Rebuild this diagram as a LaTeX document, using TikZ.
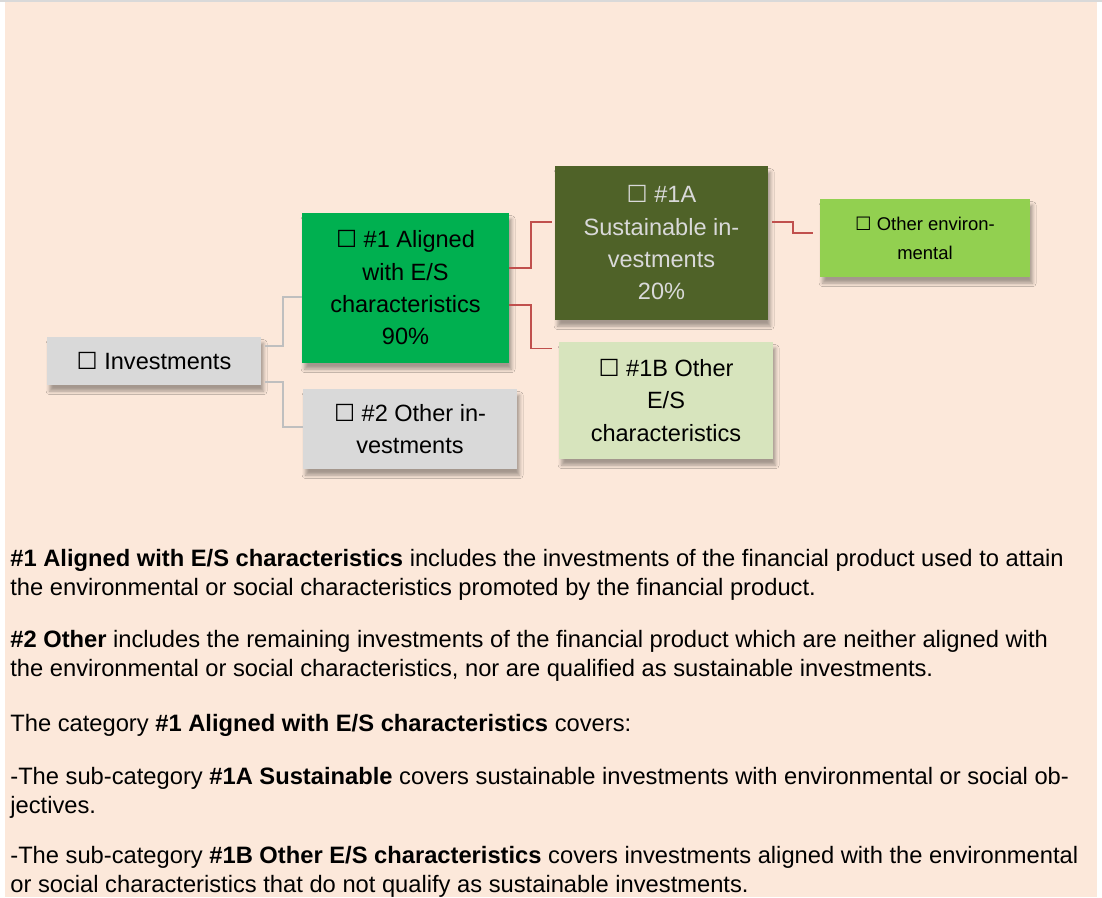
\documentclass[tikz,border=0pt]{standalone}
\usepackage{graphicx}
\usepackage{fontspec}
\setmainfont{Liberation Sans}
\newfontfamily\symfont{DejaVu Sans}
\usetikzlibrary{shadows, shadows.blur, positioning, calc}
\definecolor{Peach}{RGB}{252,232,218}
\definecolor{BoxGrey}{RGB}{217,217,217}
\definecolor{LinkGrey}{RGB}{191,191,191}
\definecolor{LinkRed}{RGB}{192,80,77}
\definecolor{AlignGreen}{RGB}{0,176,80}
\definecolor{OliveDark}{RGB}{79,98,40}
\definecolor{PaleGreen}{RGB}{215,228,189}
\definecolor{LimeGreen}{RGB}{146,208,80}
\newcommand{\ballot}{{\symfont\scalebox{1.0}{☐}}}
\newcommand{\boxfont}{\fontsize{13.4}{18.4}\selectfont}
\newcommand{\smallboxfont}{\fontsize{10.5}{16.4}\selectfont}

\begin{document}
\begin{tikzpicture}[x=0.02cm, y=-0.02cm,
  catbox/.style={rectangle, inner sep=0pt, align=center, font=\boxfont,
    blur shadow={shadow xshift=1.5pt, shadow yshift=-3.5pt, shadow blur radius=2pt, shadow opacity=35}},
  greylink/.style={draw=LinkGrey, line width=1.1pt},
  redlink/.style={draw=LinkRed, line width=1.1pt},
  para/.style={anchor=base west, inner sep=0pt, align=left, font=\fontsize{13.5}{16.2}\selectfont}]
\useasboundingbox (0,0) rectangle (1102,897);
\fill[Peach] (5,2) rectangle (1097,897);
\fill[BoxGrey] (0,0) rectangle (1102,2);

% boxes
\node[catbox, fill=BoxGrey, minimum width=4.28cm, minimum height=0.96cm] at (154,361) (inv) {\ballot{} Investments};
\node[catbox, fill=AlignGreen, minimum width=4.14cm, minimum height=3.00cm] at (405.5,288) (al) {\ballot{} \#1 Aligned\\with E/S\\characteristics\\90\%};
\node[catbox, fill=BoxGrey, minimum width=4.28cm, minimum height=1.60cm] at (410,429) (oth) {\ballot{} \#2 Other in-\\vestments};
\node[catbox, fill=OliveDark, text=BoxGrey, minimum width=4.26cm, minimum height=3.08cm] at (661.5,243) (sus) {\ballot{} \#1A\\Sustainable in-\\vestments\\20\%};
\node[catbox, fill=PaleGreen, minimum width=4.28cm, minimum height=2.34cm] at (666,400.5) (es) {\ballot{} \#1B Other\\E/S\\characteristics};
\node[catbox, fill=LimeGreen, font=\smallboxfont, minimum width=4.20cm, minimum height=1.56cm] at (925,238) (env) {\ballot{} Other environ-\\mental};

% connectors
\draw[greylink] ($(inv.east)+(4,-15)$) -- ++(18,0) |- ($(al.west)+(0,9)$);
\draw[greylink] ($(inv.east)+(4,21)$) -- ++(18,0) |- ($(oth.west)+(0,-2)$);
\draw[redlink] ($(al.east)+(0,-20)$) -- ++(22,0) |- ($(sus.west)+(-3,-21)$);
\draw[redlink] ($(al.east)+(0,17)$) -- ++(22,0) |- ($(es.west)+(-7,-52)$);
\draw[redlink] ($(sus.east)+(4,-21)$) -- ++(21,0) |- ($(env.west)+(-7,-5)$);

% explanations
\node[para] at (10,595) (p1) {\textbf{\#1 Aligned with E/S characteristics} includes the investments of the financial product used to attain\\the environmental or social characteristics promoted by the financial product.};
\node[para] at (10,676) (p2) {\textbf{\#2 Other} includes the remaining investments of the financial product which are neither aligned with\\the environmental or social characteristics, nor are qualified as sustainable investments.};
\node[para] at (10,731) (p3) {The category \textbf{\#1 Aligned with E/S characteristics} covers:};
\node[para] at (10,813) (p4) {-The sub-category \textbf{\#1A Sustainable} covers sustainable investments with environmental or social ob-\\jectives.};
\node[para] at (10,892) (p5) {-The sub-category \textbf{\#1B Other E/S characteristics} covers investments aligned with the environmental\\or social characteristics that do not qualify as sustainable investments.};
\end{tikzpicture}
\end{document}
